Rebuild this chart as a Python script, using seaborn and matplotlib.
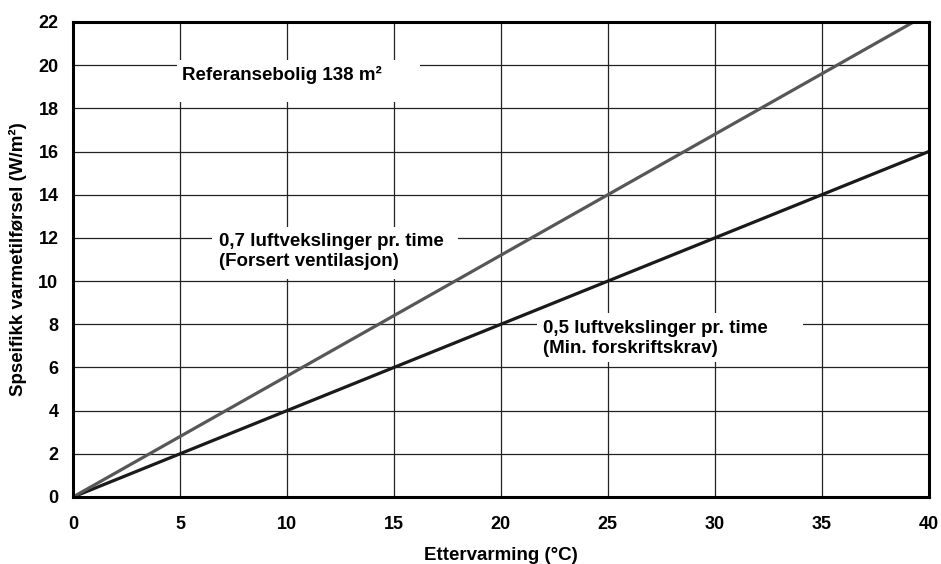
import numpy as np
import pandas as pd
import matplotlib
matplotlib.use("Agg")
import matplotlib.pyplot as plt
from matplotlib.patches import Rectangle
import seaborn as sns

# data
temp = [0, 40]                     # Ettervarming (°C)
ach_05 = [0, 16.0]                 # 0,5 luftvekslinger pr. time
ach_07 = [0, 22.4]                 # 0,7 luftvekslinger pr. time
x_ticks = [0, 5, 10, 15, 20, 25, 30, 35, 40]
y_ticks = [0, 2, 4, 6, 8, 10, 12, 14, 16, 18, 20, 22]

df = pd.DataFrame({
    'temp': temp * 2,
    'value': ach_05 + ach_07,
    'serie': ['0,5'] * 2 + ['0,7'] * 2,
})

sns.set_style("white")
plt.rcParams['font.family'] = ['Liberation Sans', 'DejaVu Sans']
plt.rcParams['font.weight'] = 'bold'
plt.rcParams['text.color'] = 'black'
plt.rcParams['axes.labelcolor'] = 'black'
plt.rcParams['xtick.color'] = 'black'
plt.rcParams['ytick.color'] = 'black'

fig = plt.figure(figsize=(9.41, 5.64), dpi=100)
ax = fig.add_axes([0.0776, 0.1188, 0.9094, 0.8422])

sns.lineplot(data=df, x='temp', y='value', hue='serie',
             palette={'0,5': '#1a1a1a', '0,7': '#575757'},
             linewidth=2.3, legend=False, ax=ax, zorder=3)

ax.set_xlim(0, 40)
ax.set_ylim(0, 22)
ax.set_xticks(x_ticks)
ax.set_yticks(y_ticks)
ax.grid(True, color='#222222', linewidth=0.9)
ax.set_axisbelow(True)
for s in ax.spines.values():
    s.set_visible(True)
    s.set_color('black')
    s.set_linewidth(2.2)
    s.set_zorder(5)

ax.tick_params(axis='x', length=0, pad=14, labelsize=13, labelcolor='black')
ax.tick_params(axis='y', length=0, pad=10.5, labelsize=13, labelcolor='black')
for lab in ax.get_xticklabels() + ax.get_yticklabels():
    lab.set_fontweight('bold')

ax.set_xlabel('Ettervarming (°C)', fontsize=13.5, fontweight='bold', labelpad=10)
ax.set_ylabel('Spseifikk varmetilførsel (W/m²)', fontsize=13.5, fontweight='bold', labelpad=8)

# white label boxes (x0, y0, width, height in data units)
boxes = [(4.86, 18.29, 11.35, 1.95),
         (6.50, 10.10, 11.49, 2.40),
         (21.68, 6.25, 12.43, 2.27)]
for x0, y0, w, h in boxes:
    ax.add_patch(Rectangle((x0, y0), w, h, facecolor='white',
                           edgecolor='none', zorder=2.5))

ax.text(5.09, 19.55, 'Referansebolig 138 m²', fontsize=13.5, fontweight='bold',
        va='center', ha='left', color='black', zorder=4)
ax.text(6.82, 11.37, '0,7 luftvekslinger pr. time\n(Forsert ventilasjon)',
        fontsize=13.5, fontweight='bold', va='center', ha='left', color='black', zorder=4)
ax.text(21.96, 7.34, '0,5 luftvekslinger pr. time\n(Min. forskriftskrav)',
        fontsize=13.5, fontweight='bold', va='center', ha='left', color='black', zorder=4)

fig.savefig('out.png', dpi=100)
